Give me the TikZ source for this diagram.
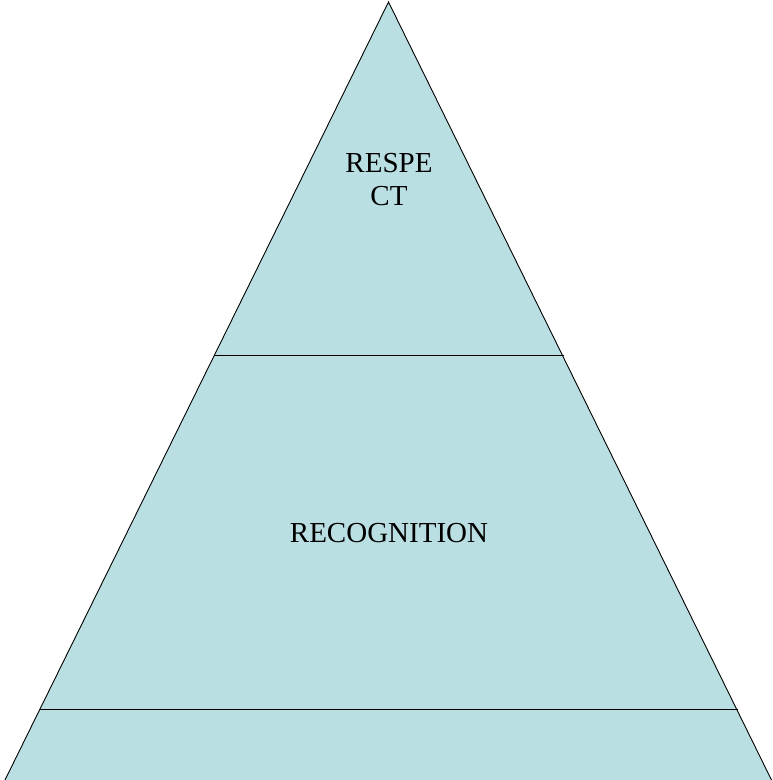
\documentclass[tikz,border=0pt]{standalone}
\usepackage{fontspec}
\setmainfont{Liberation Serif}
\definecolor{pyramidblue}{RGB}{186,223,227}
\begin{document}
\begin{tikzpicture}[x=1pt, y=-1pt, line width=0.9pt]

\tikzset{levellabel/.style={anchor=base, align=center, font=\fontsize{29}{33}\selectfont}}
\tikzset{levelline/.style={draw=black}}

\useasboundingbox (0,0) rectangle (773,780);

\coordinate (apex) at (388.5,2);
\coordinate (bl) at (5,780);
\coordinate (br) at (771.5,780);

\fill[pyramidblue] (apex) -- (br) -- (bl) -- cycle;
\draw[levelline] (bl) -- (apex) -- (br);

\coordinate (l1) at (214,355);
\coordinate (r1) at (564,355);
\coordinate (l2) at (40,709);
\coordinate (r2) at (738,709);
\draw[levelline] (l1) -- (r1);
\draw[levelline] (l2) -- (r2);

\node[levellabel] (respect) at (389,205) {RESPE\\CT};
\node[levellabel] (recognition) at (389,542) {RECOGNITION};
\end{tikzpicture}
\end{document}
